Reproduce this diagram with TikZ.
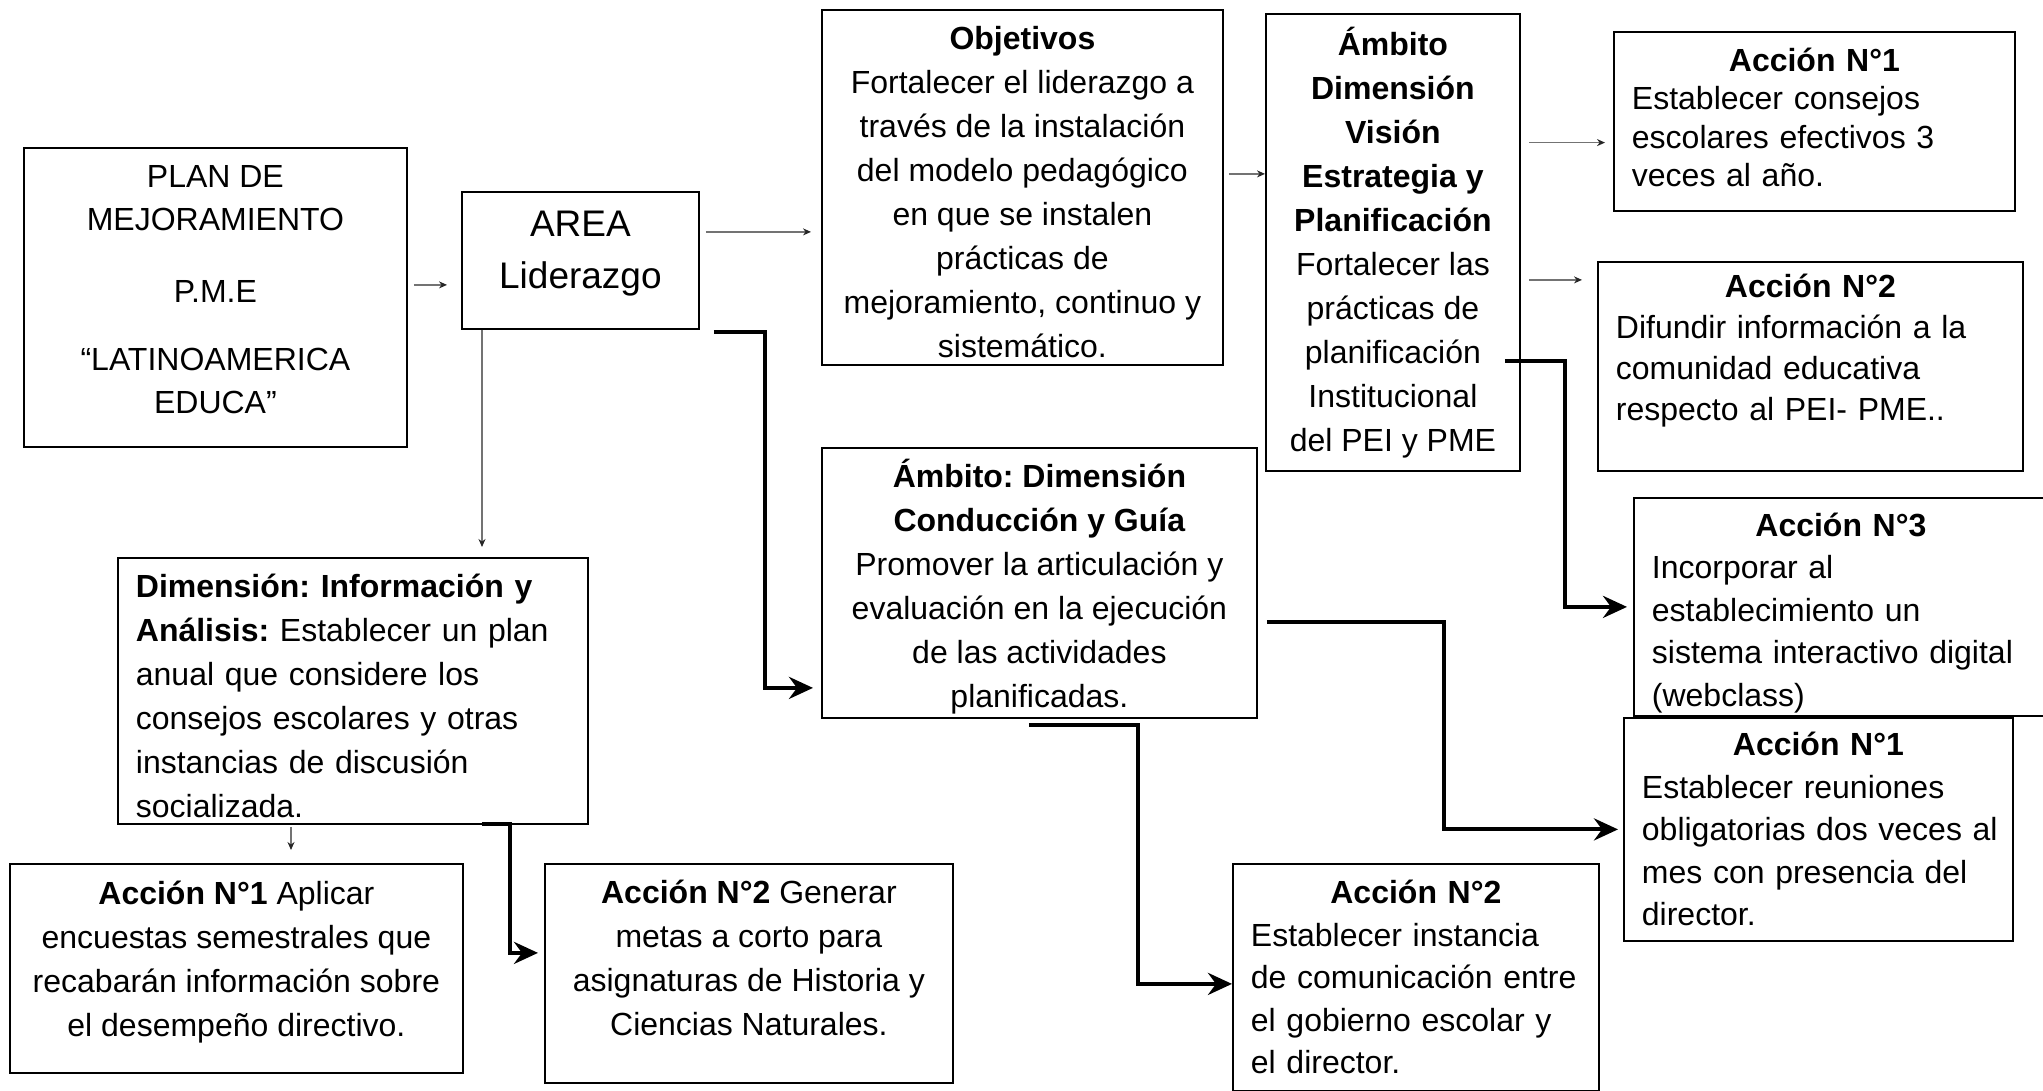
\documentclass[tikz,border=0pt]{standalone}
\usepackage{fontspec}
\setmainfont{Liberation Sans}
\usetikzlibrary{arrows.meta}
\frenchspacing
\newcommand{\cabeza}[1]{\noindent\makebox[\hsize]{\bfseries #1}}

\begin{document}
\begin{tikzpicture}[x=0.5pt, y=-0.5pt,
    caja/.style={draw, line width=0.9pt, inner sep=2pt, align=center, anchor=north west,
        font=\fontsize{16}{22}\selectfont},
    cajaizq/.style={caja, align=left, inner xsep=9pt},
    flecha/.style={line width=2pt, line join=miter, -{Stealth[length=12pt,width=11pt,inset=4pt]}},
    flechita/.style={draw=black!55, line width=0.7pt, -{Stealth[length=4pt,width=3.5pt,black!85]}}]
    \useasboundingbox (0,0) rectangle (2043,1091);

    \node[caja, minimum width=191.5pt, minimum height=149.5pt, text depth=8pt, font=\fontsize{16}{21.5}\selectfont] (plan) at (23,147)
        {PLAN DE\\MEJORAMIENTO\\[14.5pt]P.M.E\\[12.5pt]“LATINOAMERICA\\EDUCA”};
    \node[caja, minimum width=118.5pt, minimum height=68.5pt, text depth=11pt, font=\fontsize{18.5}{26}\selectfont] (area) at (461,191)
        {AREA\\Liderazgo};
    \node[caja, minimum width=200.5pt, minimum height=177.5pt, text height=170.4pt] (objetivos) at (821,9)
        {\textbf{Objetivos}\\Fortalecer el liderazgo a\\través de la instalación\\del modelo pedagógico\\en que se instalen\\prácticas de\\mejoramiento, continuo y\\sistemático.};
    \node[caja, minimum width=127pt, minimum height=228.5pt] (vision) at (1265,13)
        {\textbf{Ámbito}\\\textbf{Dimensión}\\\textbf{Visión}\\\textbf{Estrategia y}\\\textbf{Planificación}\\Fortalecer las\\prácticas de\\planificación\\Institucional\\del PEI y PME};
    \node[caja, minimum width=217.5pt, minimum height=135pt, text depth=0pt] (conduccion) at (821,447)
        {\textbf{Ámbito: Dimensión}\\\textbf{Conducción y Guía}\\Promover la articulación y\\evaluación en la ejecución\\de las actividades\\planificadas.};
    \node[cajaizq, text width=217pt, minimum width=235pt, minimum height=133pt, text depth=105.5pt] (informacion) at (117,557)
        {\textbf{Dimensión: Información y}\\\textbf{Análisis:} Establecer un plan\\anual que considere los\\consejos escolares y otras\\instancias de discusión\\socializada.};

    \node[caja, minimum width=226.5pt, minimum height=104.5pt, text depth=10pt] (accion1i) at (9,863)
        {\textbf{Acción N°1} Aplicar\\encuestas semestrales que\\recabarán información sobre\\el desempeño directivo.};
    \node[caja, minimum width=204pt, minimum height=109.5pt, text depth=16pt] (accion2i) at (544,863)
        {\textbf{Acción N°2} Generar\\metas a corto para\\asignaturas de Historia y\\Ciencias Naturales.};
    \node[cajaizq, text width=182.5pt, minimum width=200.5pt, minimum height=89.5pt, text depth=61.75pt, font=\fontsize{16}{19.25}\selectfont] (accion1v) at (1613,31)
        {\cabeza{Acción N°1}\\Establecer consejos\\escolares efectivos 3\\veces al año.};
    \node[cajaizq, text width=194.5pt, minimum width=212.5pt, minimum height=104.5pt, text depth=80.5pt, font=\fontsize{16}{20.5}\selectfont] (accion2v) at (1597,261)
        {\cabeza{Acción N°2}\\Difundir información a la\\comunidad educativa\\respecto al PEI- PME..};
    \node[cajaizq, text width=189pt, minimum width=207pt, minimum height=109pt, text depth=82.6pt, font=\fontsize{16}{21.25}\selectfont] (accion3v) at (1633,497)
        {\cabeza{Acción N°3}\\Incorporar al\\establecimiento un\\sistema interactivo digital\\(webclass)};
    \node[cajaizq, text width=176.5pt, minimum width=194.5pt, minimum height=111.5pt, font=\fontsize{16}{21.25}\selectfont] (accion1c) at (1623,717)
        {\cabeza{Acción N°1}\\Establecer reuniones\\\mbox{obligatorias dos veces al}\\mes con presencia del\\director.};
    \node[cajaizq, text width=165pt, minimum width=183pt, minimum height=113.5pt, font=\fontsize{16}{21.25}\selectfont] (accion2c) at (1232,863)
        {\cabeza{Acción N°2}\\Establecer instancia\\\mbox{de comunicación entre}\\el gobierno escolar y\\el director.};

    \draw[flechita, shorten <=3pt, shorten >=7pt] ([yshift=6.25pt]plan.east) -- ([yshift=6.25pt]plan.east -| area.west);
    \draw[flechita, shorten <=3pt, shorten >=5pt] ([yshift=14.25pt]area.east) -- ([yshift=14.25pt]area.east -| objetivos.west);
    \draw[flechita, shorten <=2.5pt] ([yshift=6.75pt]objetivos.east) -- ([yshift=6.75pt]objetivos.east -| vision.west);
    \draw[flechita, shorten <=4.25pt, shorten >=4pt] ([yshift=49.9pt]vision.east) -- ([yshift=49.9pt]vision.east -| accion1v.west);
    \draw[flechita, shorten <=4.25pt, shorten >=7.5pt] ([yshift=-18.75pt]vision.east) -- ([yshift=-18.75pt]vision.east -| accion2v.west);
    \draw[flechita, shorten >=5pt] ([xshift=10.5pt]area.south west) -- ([xshift=10.5pt]area.south west |- informacion.north);
    \draw[flechita, shorten <=1pt, shorten >=6.5pt] ([xshift=87pt]informacion.south west) -- ([xshift=87pt]informacion.south west |- accion1i.north);

    \draw[flecha, shorten >=4pt] ([xshift=7pt,yshift=-1pt]area.south east) -- ++(25.5pt,0) |- ([yshift=-52.5pt]conduccion.west);
    \draw[flecha, shorten >=3pt] ([xshift=-8pt,yshift=-59.25pt]vision.east) -- ++(30pt,0) |- (accion3v.west);
    \draw[flecha, shorten >=3pt] ([xshift=-53.5pt,yshift=0.5pt]informacion.south east) -- ++(14pt,0) |- ([yshift=10.25pt]accion2i.west);
    \draw[flecha, shorten >=2.5pt] ([xshift=4.5pt,yshift=-19.5pt]conduccion.east) -- ++(88.5pt,0) |- (accion1c.west);
    \draw[flecha] ([xshift=-5.25pt,yshift=-3pt]conduccion.south) -- ++(54.5pt,0) |- ([yshift=-3.25pt]accion2c.west);

\end{tikzpicture}
\end{document}
